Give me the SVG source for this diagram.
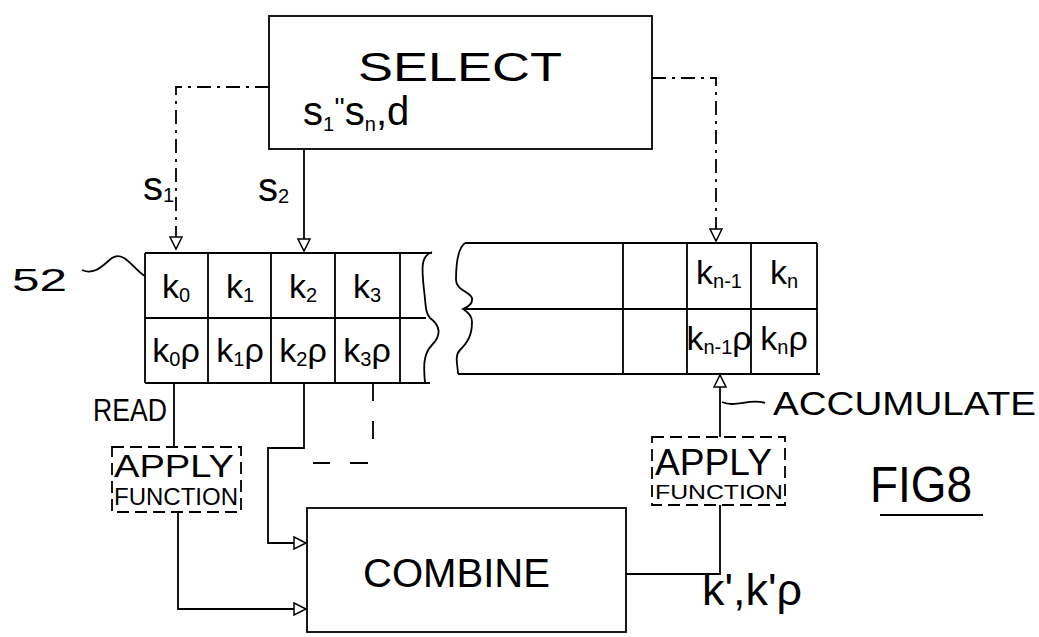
<svg xmlns="http://www.w3.org/2000/svg" width="1039" height="637" viewBox="0 0 1039 637">
<style>
.ln{fill:none;stroke:#000;stroke-width:1.8}
.dsh{stroke-dasharray:14 6 3 6}
.dbox{fill:none;stroke:#000;stroke-width:1.8;stroke-dasharray:12 6}
text{font-family:"Liberation Sans",Arial,sans-serif;fill:#000}
.t{font-size:34px}
.s{font-size:20px}
.lab{font-size:28px}
</style>
<defs>
<marker id="ah" markerUnits="userSpaceOnUse" markerWidth="16" markerHeight="14" refX="13" refY="7" orient="auto">
<path d="M1,1 L13,7 L1,13 Z" fill="#fff" stroke="#000" stroke-width="1.5"/>
</marker>
</defs>
<rect width="1039" height="637" fill="#fff"/>

<g id="select">
<rect class="ln" x="269" y="16" width="383" height="133"/>
<text x="358" y="81" font-size="40" textLength="204" lengthAdjust="spacingAndGlyphs">SELECT</text>
<text x="303" y="125" font-size="40">s<tspan class="s" dy="6">1</tspan><tspan dy="-14" font-size="28">''</tspan><tspan dy="8">s</tspan><tspan class="s" dy="6">n</tspan><tspan dy="-6">,d</tspan></text>
</g>

<g id="label52">
<text x="12" y="291" font-size="32" textLength="55" lengthAdjust="spacingAndGlyphs">52</text>
<path class="ln" d="M82,270 C95,276 104,264 112,258 C124,250 134,270 145,276"/>
</g>

<g id="table-left">
<path class="ln" d="M145,253 H432 M145,318 H426 M145,383 H430 M145,253 V383 M208,253 V383 M271,253 V383 M335,253 V383 M400,253 V383"/>
<path class="ln" d="M432,252 C420,256 422,270 424,290 C426,305 425,312 430,318 C440,325 442,335 432,345 C422,355 424,370 425,383"/>
<text class="t" x="176" y="298" text-anchor="middle">k<tspan class="s" dy="4">0</tspan></text>
<text class="t" x="240" y="298" text-anchor="middle">k<tspan class="s" dy="4">1</tspan></text>
<text class="t" x="303" y="298" text-anchor="middle">k<tspan class="s" dy="4">2</tspan></text>
<text class="t" x="367" y="298" text-anchor="middle">k<tspan class="s" dy="4">3</tspan></text>
<text class="t" x="176" y="362" text-anchor="middle">k<tspan class="s" dy="4">0</tspan><tspan dy="-4">ρ</tspan></text>
<text class="t" x="240" y="362" text-anchor="middle">k<tspan class="s" dy="4">1</tspan><tspan dy="-4">ρ</tspan></text>
<text class="t" x="303" y="362" text-anchor="middle">k<tspan class="s" dy="4">2</tspan><tspan dy="-4">ρ</tspan></text>
<text class="t" x="367" y="362" text-anchor="middle">k<tspan class="s" dy="4">3</tspan><tspan dy="-4">ρ</tspan></text>
</g>

<g id="table-right">
<path class="ln" d="M465,243 H817 M463,309 H817 M458,374 H820 M623,243 V374 M687,243 V374 M751,243 V374 M817,243 V374"/>
<path class="ln" d="M465,243 C458,248 456,262 456,280 C456,290 470,292 472,298 C473,304 468,307 463,309 C468,312 472,316 472,322 C472,335 468,342 460,350 C454,356 458,366 458,374"/>
<text class="t" x="719" y="284" text-anchor="middle">k<tspan class="s" dy="4">n-1</tspan></text>
<text class="t" x="784" y="284" text-anchor="middle">k<tspan class="s" dy="4">n</tspan></text>
<text class="t" x="719" y="350" text-anchor="middle">k<tspan class="s" dy="4">n-1</tspan><tspan dy="-4">ρ</tspan></text>
<text class="t" x="784" y="350" text-anchor="middle">k<tspan class="s" dy="4">n</tspan><tspan dy="-4">ρ</tspan></text>
</g>

<g id="apply-left">
<rect class="dbox" x="112" y="447" width="129" height="65"/>
<text x="114" y="477" font-size="32" textLength="120" lengthAdjust="spacingAndGlyphs">APPLY</text>
<text x="114" y="505" font-size="24" textLength="124" lengthAdjust="spacingAndGlyphs">FUNCTION</text>
</g>

<g id="apply-right">
<rect class="dbox" x="652" y="437" width="133" height="68"/>
<text x="655" y="475" font-size="36" textLength="117" lengthAdjust="spacingAndGlyphs">APPLY</text>
<text x="655" y="499" font-size="20" textLength="128" lengthAdjust="spacingAndGlyphs">FUNCTION</text>
</g>

<g id="combine">
<rect class="ln" x="307" y="508" width="319" height="124"/>
<text x="363" y="587" font-size="40" textLength="187" lengthAdjust="spacingAndGlyphs">COMBINE</text>
</g>

<g id="connectors">
<path class="ln dsh" d="M269,87 H176 V249" marker-end="url(#ah)"/>
<path class="ln" d="M304,149 V251" marker-end="url(#ah)"/>
<path class="ln dsh" d="M652,78 H716 V241" marker-end="url(#ah)"/>
<path class="ln" d="M174,383 V447"/>
<path class="ln" d="M178,512 V609 H306" marker-end="url(#ah)"/>
<path class="ln" d="M304,383 V448 H268 V543 H306" marker-end="url(#ah)"/>
<path class="ln" d="M373,383 V440" stroke-dasharray="18 20"/>
<path class="ln" d="M313,463 H330 M350,463 H368"/>
<path class="ln" d="M626,574 H720 V505"/>
<path class="ln" d="M720,437 V375" marker-end="url(#ah)"/>
<path class="ln" d="M722,402 C735,408 750,398 765,403"/>
</g>

<g id="labels">
<text x="143" y="200" font-size="40">s<tspan class="s" dy="2">1</tspan></text>
<text x="258" y="201" font-size="40">s<tspan class="s" dy="2">2</tspan></text>
<text x="93" y="421" font-size="32" textLength="74" lengthAdjust="spacingAndGlyphs">READ</text>
<text x="773" y="415" font-size="34" textLength="263" lengthAdjust="spacingAndGlyphs">ACCUMULATE</text>
<text x="702" y="605" font-size="44" textLength="100" lengthAdjust="spacingAndGlyphs">k',k'ρ</text>
</g>

<g id="fig">
<text x="870" y="502" font-size="50" textLength="102" lengthAdjust="spacingAndGlyphs">FIG8</text>
<path class="ln" d="M880,515 H983"/>
</g>
</svg>
